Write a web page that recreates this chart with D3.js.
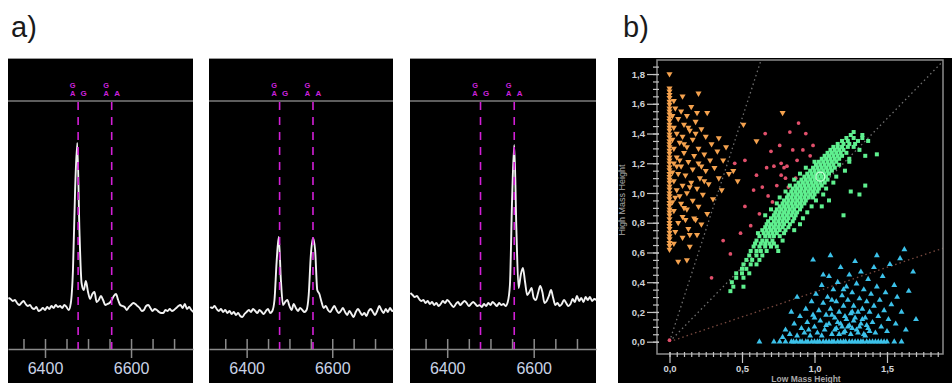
<!DOCTYPE html>
<html>
<head>
<meta charset="utf-8">
<script src="https://cdn.jsdelivr.net/npm/d3@7"></script>
<style>
  body { margin: 0; background: #fff; }
  svg { display: block; font-family: "Liberation Sans", Arial, sans-serif; }
</style>
</head>
<body>
<svg id="fig" width="952" height="383"></svg>
<script>
// ---------- DATA: panel a) spectra ----------
const waveStart = 6315, waveEnd = 6745, waveStep = 5;
const wavelengths = d3.range(waveStart, waveEnd + 1, waveStep);
const spectrum1 = [1.02,1.00,0.96,0.98,0.92,0.88,0.92,0.96,0.90,0.86,
  0.88,0.82,0.80,0.84,0.76,0.78,0.82,0.78,0.84,0.80,
  0.86,0.82,0.88,0.84,0.86,0.82,0.88,0.84,0.78,0.92,
  1.58,3.18,4.12,2.38,1.32,1.18,1.36,1.14,1.00,1.10,
  1.14,0.94,0.98,1.06,0.98,0.88,0.90,0.92,0.98,1.06,
  1.10,0.98,0.88,0.86,0.84,0.78,0.84,0.88,0.92,0.90,
  0.86,0.82,0.76,0.78,0.86,0.88,0.82,0.76,0.80,0.78,
  0.74,0.72,0.72,0.78,0.76,0.80,0.76,0.78,0.82,0.86,
  0.88,0.82,0.90,0.80,0.84,0.78,0.74];
const spectrum2 = [0.84,0.82,0.86,0.80,0.76,0.80,0.74,0.78,0.72,0.76,
  0.70,0.74,0.68,0.72,0.66,0.64,0.70,0.74,0.78,0.74,
  0.80,0.76,0.72,0.78,0.74,0.70,0.76,0.80,0.72,0.76,
  0.98,1.74,2.24,1.38,0.88,0.94,0.98,0.86,0.78,0.90,
  0.82,0.76,0.82,0.78,0.74,0.78,1.08,1.88,2.22,1.98,
  1.18,1.10,0.94,0.82,0.86,0.78,0.74,0.80,0.86,0.78,
  0.72,0.76,0.82,0.74,0.68,0.76,0.70,0.64,0.74,0.80,
  0.74,0.68,0.72,0.66,0.76,0.80,0.74,0.68,0.76,0.86,
  0.78,0.72,0.80,0.74,0.82,0.76,0.78];
const spectrum3 = [1.12,1.08,1.04,1.06,1.00,0.96,0.98,0.92,0.96,0.90,
  0.94,0.88,0.92,0.86,0.90,0.96,0.92,0.98,0.94,0.88,
  0.84,0.90,0.94,0.88,0.92,0.96,0.92,0.86,0.90,0.94,
  0.90,0.86,0.88,0.84,0.90,0.86,0.92,0.88,0.94,0.90,
  0.86,0.92,0.88,0.90,0.86,0.94,1.28,2.98,4.08,2.38,
  1.22,1.48,1.62,1.34,1.08,1.14,1.22,1.02,0.98,1.12,
  1.26,1.14,0.92,0.96,1.06,1.18,1.02,0.88,0.92,0.86,
  0.90,0.98,0.92,0.86,0.90,1.00,0.94,1.06,0.96,1.02,
  0.94,1.04,0.98,1.04,0.96,1.00,0.98];
const spectra = [spectrum1, spectrum2, spectrum3];
const lineWaves = [6477, 6555];
const lineSideLetters = ["G", "A"];
const specMajorTicks = [6400, 6600];
const specMinorTicks = d3.range(6350, 6701, 50);

// ---------- DATA: panel b) scatter ----------
const orangeAxisY = [0.62,0.645,0.665,0.69,0.71,0.735,0.76,0.78,0.8,0.825,0.85,0.87,0.89,0.915,0.935,0.96,0.98,1.0,1.025,1.045,
  1.07,1.09,1.11,1.13,1.155,1.175,1.2,1.22,1.24,1.265,1.285,1.31,1.33,1.35,1.375,1.395,1.42,1.44,1.46,1.485,
  1.505,1.53,1.55,1.57,1.595,1.615,1.64,1.66,1.685,1.705,1.8];
const orangePoints = [[0.03,1.62],[0.09,1.65],[0.2,1.67],[0.04,1.57],[0.08,1.55],[0.15,1.58],[0.12,1.52],[0.06,1.5],[0.18,1.48],
  [0.26,1.54],[0.19,1.54],[0.1,1.46],[0.03,1.44],[0.14,1.42],[0.22,1.43],[0.51,1.46],[0.6,1.35],[0.78,1.54],[0.34,1.37],
  [0.39,1.31],[0.44,1.15],[0.47,1.08],[0.05,1.4],[0.09,1.38],[0.16,1.36],[0.25,1.38],[0.29,1.33],[0.07,1.34],[0.12,1.31],
  [0.2,1.3],[0.03,1.3],[0.33,1.28],[0.1,1.27],[0.17,1.25],[0.24,1.26],[0.05,1.24],[0.28,1.22],[0.37,1.22],[0.13,1.21],
  [0.2,1.2],[0.03,1.2],[0.08,1.18],[0.31,1.17],[0.16,1.16],[0.25,1.15],[0.41,1.13],[0.06,1.13],[0.11,1.12],[0.21,1.1],
  [0.34,1.1],[0.03,1.08],[0.15,1.07],[0.27,1.06],[0.09,1.05],[0.19,1.03],[0.05,1.02],[0.36,1.02],[0.12,1.0],[0.23,0.99],
  [0.04,0.97],[0.16,0.95],[0.3,0.96],[0.08,0.93],[0.2,0.91],[0.12,0.89],[0.03,0.88],[0.26,0.86],[0.09,0.84],[0.17,0.83],
  [0.06,0.8],[0.22,0.79],[0.13,0.76],[0.04,0.74],[0.19,0.72],[0.09,0.7],[0.03,0.66],[0.14,0.64],[0.06,0.54],[0.12,0.55],
  [0.02,1.52],[0.02,1.36],[0.02,1.14],[0.02,0.94],[0.05,1.18],[0.07,1.22],[0.1,1.33],[0.13,1.44],[0.18,1.4],[0.22,1.18],
  [0.24,1.08],[0.14,1.04],[0.07,0.98],[0.1,0.9],[0.11,0.82],[0.18,0.82],[0.14,0.72]];
const redPoints = [[0.67,1.17],[0.72,1.18],[0.79,1.17],[0.76,1.32],[0.83,1.41],[0.58,1.02],[0.64,1.04],[0.52,0.91],
  [0.49,0.73],[0.42,0.59],[0.29,0.43],[0.0,0.01],[0.89,1.47],[0.94,1.4],[0.85,1.29],[0.92,1.29],[0.99,1.32],
  [0.77,1.2],[0.81,1.18],[0.77,1.12],[0.8,1.1],[0.87,1.1],[0.82,1.04],[0.45,1.2],[0.52,1.22],[0.37,0.68],[0.62,0.86],
  [0.7,1.28],[0.6,1.12],[0.56,0.78],[0.68,0.98],[0.74,1.05],[0.88,1.22],[0.97,1.25],[0.66,1.4],[0.71,0.94]];
// green points grouped by height: [y, [x values]]
const greenRows = [
  [0.34,[0.42]],[0.37,[0.44,0.51]],[0.40,[0.43]],[0.43,[0.46,0.51]],[0.46,[0.46,0.5,0.55]],[0.49,[0.5,0.53]],
  [0.52,[0.51,0.56,0.6]],[0.55,[0.53,0.57,0.62]],[0.58,[0.55,0.6,0.64]],[0.61,[0.56,0.6,0.63,0.67,0.75]],
  [0.64,[0.58,0.62,0.66,0.7,0.74]],[0.66,[0.59,0.63,0.66,0.69,0.72]],[0.68,[0.6,0.64,0.67,0.71,0.78]],
  [0.71,[0.62,0.66,0.69,0.72,0.76]],[0.73,[0.61,0.65,0.68,0.71,0.74,0.79]],[0.75,[0.64,0.67,0.7,0.73,0.76,0.8,0.86]],
  [0.77,[0.66,0.69,0.72,0.75,0.78,0.82]],[0.79,[0.67,0.7,0.73,0.76,0.79,0.83,0.9]],[0.81,[0.68,0.72,0.75,0.78,0.81,0.85]],
  [0.83,[0.7,0.73,0.76,0.79,0.82,0.86,0.92]],[0.85,[0.66,0.72,0.75,0.78,0.81,0.84,0.87,1.2]],
  [0.87,[0.73,0.76,0.79,0.82,0.85,0.88,0.95]],[0.89,[0.7,0.74,0.77,0.8,0.83,0.86,0.9]],
  [0.91,[0.76,0.79,0.82,0.85,0.88,0.91,0.98,1.05]],[0.93,[0.74,0.78,0.81,0.84,0.87,0.9,0.93]],
  [0.95,[0.79,0.82,0.85,0.88,0.91,0.94,1.01,1.1]],[0.97,[0.76,0.81,0.84,0.87,0.9,0.93,0.96,0.99]],
  [0.99,[0.82,0.85,0.88,0.91,0.94,0.97,1.0,1.06,1.31]],[1.01,[0.8,0.84,0.87,0.9,0.93,0.96,0.99,1.02,1.25]],
  [1.03,[0.85,0.88,0.91,0.94,0.97,1.0,1.03,1.08]],[1.05,[0.83,0.87,0.9,0.93,0.96,0.99,1.02,1.05,1.35]],
  [1.07,[0.89,0.92,0.95,0.98,1.01,1.04,1.07,1.13]],[1.09,[0.86,0.91,0.94,0.97,1.0,1.03,1.06,1.09]],
  [1.11,[0.93,0.96,0.99,1.02,1.05,1.08,1.15]],[1.13,[0.9,0.95,0.98,1.01,1.04,1.07,1.1]],
  [1.15,[0.97,1.0,1.03,1.06,1.09,1.12,1.21]],[1.17,[0.94,0.99,1.02,1.05,1.08,1.11,1.14]],
  [1.19,[1.01,1.04,1.07,1.1,1.13,1.17]],[1.21,[1.0,1.03,1.06,1.09,1.12,1.15,1.24]],
  [1.23,[1.05,1.08,1.11,1.14,1.17,1.24]],[1.25,[1.07,1.1,1.13,1.16,1.19,1.35]],[1.26,[1.43]],
  [1.27,[1.09,1.12,1.15,1.18,1.22]],[1.29,[1.11,1.14,1.17,1.2,1.31]],[1.31,[1.13,1.16,1.19,1.23,1.27]],
  [1.33,[1.16,1.2,1.24,1.28]],[1.35,[1.19,1.23,1.3,1.37]],[1.37,[1.22,1.27,1.33]],[1.39,[1.25,1.33]],[1.41,[1.27]]];
const highlightPoint = [1.04, 1.11];
const cyanAxisX = [0.62,0.72,0.76,0.8,0.84,0.855,0.875,0.9,0.915,0.94,0.955,0.98,1.0,1.02,1.035,1.06,1.08,1.1,1.12,1.135,
  1.16,1.18,1.2,1.215,1.24,1.26,1.28,1.3,1.32,1.335,1.36,1.38,1.4,1.42,1.44,1.46,1.48,1.5,1.55,1.6];
const cyanPoints = [[0.78,0.03],[0.8,0.08],[0.83,0.05],[0.86,0.12],[0.88,0.04],[0.9,0.17],[0.91,0.09],[0.93,0.06],[0.94,0.22],
  [0.95,0.13],[0.97,0.04],[0.98,0.27],[0.99,0.18],[1.0,0.1],[1.01,0.32],[1.02,0.06],[1.03,0.21],[1.04,0.14],[1.05,0.38],
  [1.06,0.26],[1.07,0.08],[1.08,0.18],[1.09,0.3],[1.1,0.12],[1.1,0.44],[1.11,0.22],[1.12,0.05],[1.13,0.35],[1.14,0.16],
  [1.15,0.27],[1.15,0.09],[1.16,0.4],[1.17,0.2],[1.18,0.5],[1.18,0.12],[1.19,0.31],[1.2,0.06],[1.2,0.24],[1.21,0.17],
  [1.22,0.37],[1.23,0.1],[1.23,0.28],[1.24,0.45],[1.25,0.19],[1.25,0.05],[1.26,0.33],[1.27,0.14],[1.27,0.24],[1.28,0.54],
  [1.29,0.08],[1.29,0.39],[1.3,0.2],[1.31,0.29],[1.32,0.12],[1.32,0.47],[1.33,0.22],[1.34,0.05],[1.34,0.35],[1.35,0.16],
  [1.36,0.27],[1.37,0.42],[1.37,0.09],[1.38,0.2],[1.39,0.32],[1.4,0.13],[1.41,0.5],[1.41,0.24],[1.42,0.06],[1.43,0.37],
  [1.44,0.17],[1.45,0.28],[1.46,0.1],[1.47,0.44],[1.48,0.21],[1.49,0.33],[1.5,0.07],[1.51,0.15],[1.52,0.52],[1.53,0.25],
  [1.55,0.38],[1.56,0.12],[1.57,0.3],[1.59,0.56],[1.6,0.2],[1.62,0.62],[1.63,0.08],[1.65,0.34],[1.68,0.47],[1.7,0.15],
  [1.12,0.28],[1.14,0.08],[1.16,0.13],[1.19,0.1],[1.21,0.07],[1.22,0.15],[1.24,0.11],[1.26,0.09],[1.28,0.16],[1.3,0.06],
  [1.31,0.1],[1.33,0.15],[1.35,0.04],[1.36,0.11],[1.38,0.07],[1.17,0.05],[1.05,0.04],[1.08,0.11],[1.0,0.16],[0.96,0.08],
  [1.12,0.18],[1.26,0.2],[1.2,0.35],[1.06,0.45],[0.99,0.55],[1.43,0.58],[1.11,0.58],[0.88,0.3],[0.84,0.2]];
const guideSlopes = [3, 1, 1 / 3];
const guideColors = ["#6e6e6e", "#707070", "#7a4a40"];
const scatterTicks = [0, 0.2, 0.4, 0.6, 0.8, 1.0, 1.2, 1.4, 1.6, 1.8];
const scatterXTicks = [0, 0.5, 1.0, 1.5];

const svg = d3.select("#fig");
const comma = d => d.toFixed(1).replace(".", ",");

// ---------- PANEL LABELS ----------
svg.append("text").attr("x", 11).attr("y", 37).attr("font-size", 29).attr("fill", "#1a1a1a").text("a)");
svg.append("text").attr("x", 623).attr("y", 37).attr("font-size", 29).attr("fill", "#1a1a1a").text("b)");

// ---------- PANEL a) ----------
const specPanels = [
  { x0: 8, x1: 193, domain: [6314, 6744] },
  { x0: 209, x1: 393, domain: [6312, 6742] },
  { x0: 410, x1: 596, domain: [6314, 6744] }
];
const yFlux = d3.scaleLinear().domain([0, 5]).range([349, 99]);

specPanels.forEach((p, i) => {
  const g = svg.append("g");
  const x = d3.scaleLinear().domain(p.domain).range([p.x0, p.x1]);

  g.append("rect").attr("x", p.x0).attr("y", 58).attr("width", p.x1 - p.x0).attr("height", 325).attr("fill", "#000");
  g.append("line").attr("x1", p.x0).attr("x2", p.x1).attr("y1", 58.5).attr("y2", 58.5).attr("stroke", "#9a9a9a");
  g.append("line").attr("x1", p.x0).attr("x2", p.x1).attr("y1", 101).attr("y2", 101)
    .attr("stroke", "#7c7c7c").attr("stroke-width", 1.5);

  // AXIS
  const minor = g.append("g").attr("transform", "translate(0,349)")
    .call(d3.axisTop(x).tickValues(specMinorTicks).tickSize(10).tickSizeOuter(0).tickFormat(""));
  minor.select(".domain").attr("stroke", "#8a8a8a").attr("stroke-width", 1.5);
  minor.selectAll(".tick line").attr("stroke", "#8a8a8a").attr("stroke-width", 1.5);

  const major = g.append("g").attr("transform", "translate(0,349)")
    .call(d3.axisBottom(x).tickValues(specMajorTicks).tickSize(9).tickPadding(5).tickFormat(d3.format("d")));
  major.select(".domain").remove();
  major.selectAll(".tick line").attr("stroke", "#8a8a8a").attr("stroke-width", 1.5);
  major.selectAll(".tick text").attr("fill", "#c9d3e6").attr("font-size", 16)
    .attr("font-family", "'Liberation Sans', Arial, sans-serif");

  // SPECTRUM
  const line = d3.line().curve(d3.curveMonotoneX).x((d, j) => x(wavelengths[j])).y(d => yFlux(d));
  g.append("path").datum(spectra[i]).attr("d", line)
    .attr("fill", "none").attr("stroke", "#f2f2f2").attr("stroke-width", 1.9).attr("stroke-linejoin", "round");

  // LINE MARKERS
  lineWaves.forEach((w, k) => {
    const lx = x(w);
    g.append("line").attr("x1", lx).attr("x2", lx).attr("y1", 102).attr("y2", 349)
      .attr("stroke", "#d21fd6").attr("stroke-width", 1.6).attr("stroke-dasharray", "8,7");
    const t = g.append("g").attr("fill", "#cc22dd").attr("font-weight", "bold").attr("font-size", 7.4)
      .attr("text-anchor", "middle");
    t.append("text").attr("x", lx - 5.5).attr("y", 87.5).text("G");
    t.append("text").attr("x", lx - 5.5).attr("y", 96.2).text("A");
    t.append("text").attr("x", lx + 5.5).attr("y", 96.2).attr("font-size", 8).text(lineSideLetters[k]);
  });
});

// ---------- PANEL b) ----------
const gb = svg.append("g");
gb.append("rect").attr("x", 618).attr("y", 58).attr("width", 334).attr("height", 325).attr("fill", "#000");

const xs = d3.scaleLinear().domain([-0.0862, 1.8862]).range([657, 943]);
const ys = d3.scaleLinear().domain([-0.0827, 1.8944]).range([354, 60]);

gb.append("clipPath").attr("id", "plotClip").append("rect")
  .attr("x", 657).attr("y", 60).attr("width", 286).attr("height", 294);
const plot = gb.append("g").attr("clip-path", "url(#plotClip)");

// GUIDES
guideSlopes.forEach((s, i) => {
  const xEnd = Math.min(xs.domain()[1], ys.domain()[1] / s);
  plot.append("line").attr("x1", xs(0)).attr("y1", ys(0)).attr("x2", xs(xEnd)).attr("y2", ys(xEnd * s))
    .attr("stroke", guideColors[i]).attr("stroke-width", 1.3).attr("stroke-dasharray", "1.5,3");
});

// POINTS
const triDown = d3.symbol().type(d3.symbolTriangle).size(16);
const triUp = d3.symbol().type(d3.symbolTriangle).size(15);
const square = d3.symbol().type(d3.symbolSquare).size(16);
const dot = d3.symbol().type(d3.symbolCircle).size(11);

const orangeAll = orangeAxisY.map(v => [0, v]).concat(orangePoints);
plot.append("g").selectAll("path").data(orangeAll).join("path")
  .attr("d", triDown).attr("fill", "#f5a24e")
  .attr("transform", d => `translate(${xs(d[0])},${ys(d[1])}) rotate(180)`);

const cyanAll = cyanAxisX.map(v => [v, 0]).concat(cyanPoints);
plot.append("g").selectAll("path").data(cyanAll).join("path")
  .attr("d", triUp).attr("fill", "#3cc2ea")
  .attr("transform", d => `translate(${xs(d[0])},${ys(d[1])})`);

plot.append("g").selectAll("path").data(redPoints).join("path")
  .attr("d", dot).attr("fill", "#e2506c")
  .attr("transform", d => `translate(${xs(d[0])},${ys(d[1])})`);

const greenAll = greenRows.flatMap(([yv, xv]) => xv.map(v => [v, yv]));
plot.append("g").selectAll("path").data(greenAll).join("path")
  .attr("d", square).attr("fill", "#5ff08f")
  .attr("transform", d => `translate(${xs(d[0])},${ys(d[1])})`);

plot.append("circle").attr("cx", xs(highlightPoint[0])).attr("cy", ys(highlightPoint[1])).attr("r", 4.5)
  .attr("fill", "none").attr("stroke", "#c8ffd8").attr("stroke-width", 1.2);

// FRAME
gb.append("rect").attr("x", 657).attr("y", 60).attr("width", 286).attr("height", 294)
  .attr("fill", "none").attr("stroke", "#8c8c8c").attr("stroke-width", 1.5);

// AXES
const styleAxis = sel => {
  sel.select(".domain").remove();
  sel.selectAll(".tick line").attr("stroke", "#c4c4c4").attr("stroke-width", 1.2);
  sel.selectAll(".tick text").attr("fill", "#cfd2d8").attr("font-size", 9.5).attr("font-weight", "bold")
    .attr("font-family", "'Liberation Sans', Arial, sans-serif");
};
gb.append("g").attr("transform", "translate(659,0)")
  .call(d3.axisLeft(ys).tickValues(d3.range(0, 1.86, 0.05)).tickSize(6).tickFormat("")).call(styleAxis);
gb.append("g").attr("transform", "translate(659,0)")
  .call(d3.axisLeft(ys).tickValues(scatterTicks).tickSize(12).tickPadding(2).tickFormat(comma)).call(styleAxis);
gb.append("g").attr("transform", "translate(0,352)")
  .call(d3.axisBottom(xs).tickValues(d3.range(0, 1.86, 0.05)).tickSize(5).tickFormat("")).call(styleAxis);
gb.append("g").attr("transform", "translate(0,352)")
  .call(d3.axisBottom(xs).tickValues(scatterXTicks).tickSize(11).tickPadding(2).tickFormat(comma)).call(styleAxis);

// AXIS TITLES
gb.append("text").attr("transform", "translate(625,200) rotate(-90)").attr("text-anchor", "middle")
  .attr("font-size", 9).attr("fill", "#a9a9a9").text("High Mass Height");
gb.append("text").attr("x", 806).attr("y", 382).attr("text-anchor", "middle")
  .attr("font-size", 8.5).attr("font-weight", "bold").attr("fill", "#a9a9a9").text("Low Mass Height");
</script>
</body>
</html>
